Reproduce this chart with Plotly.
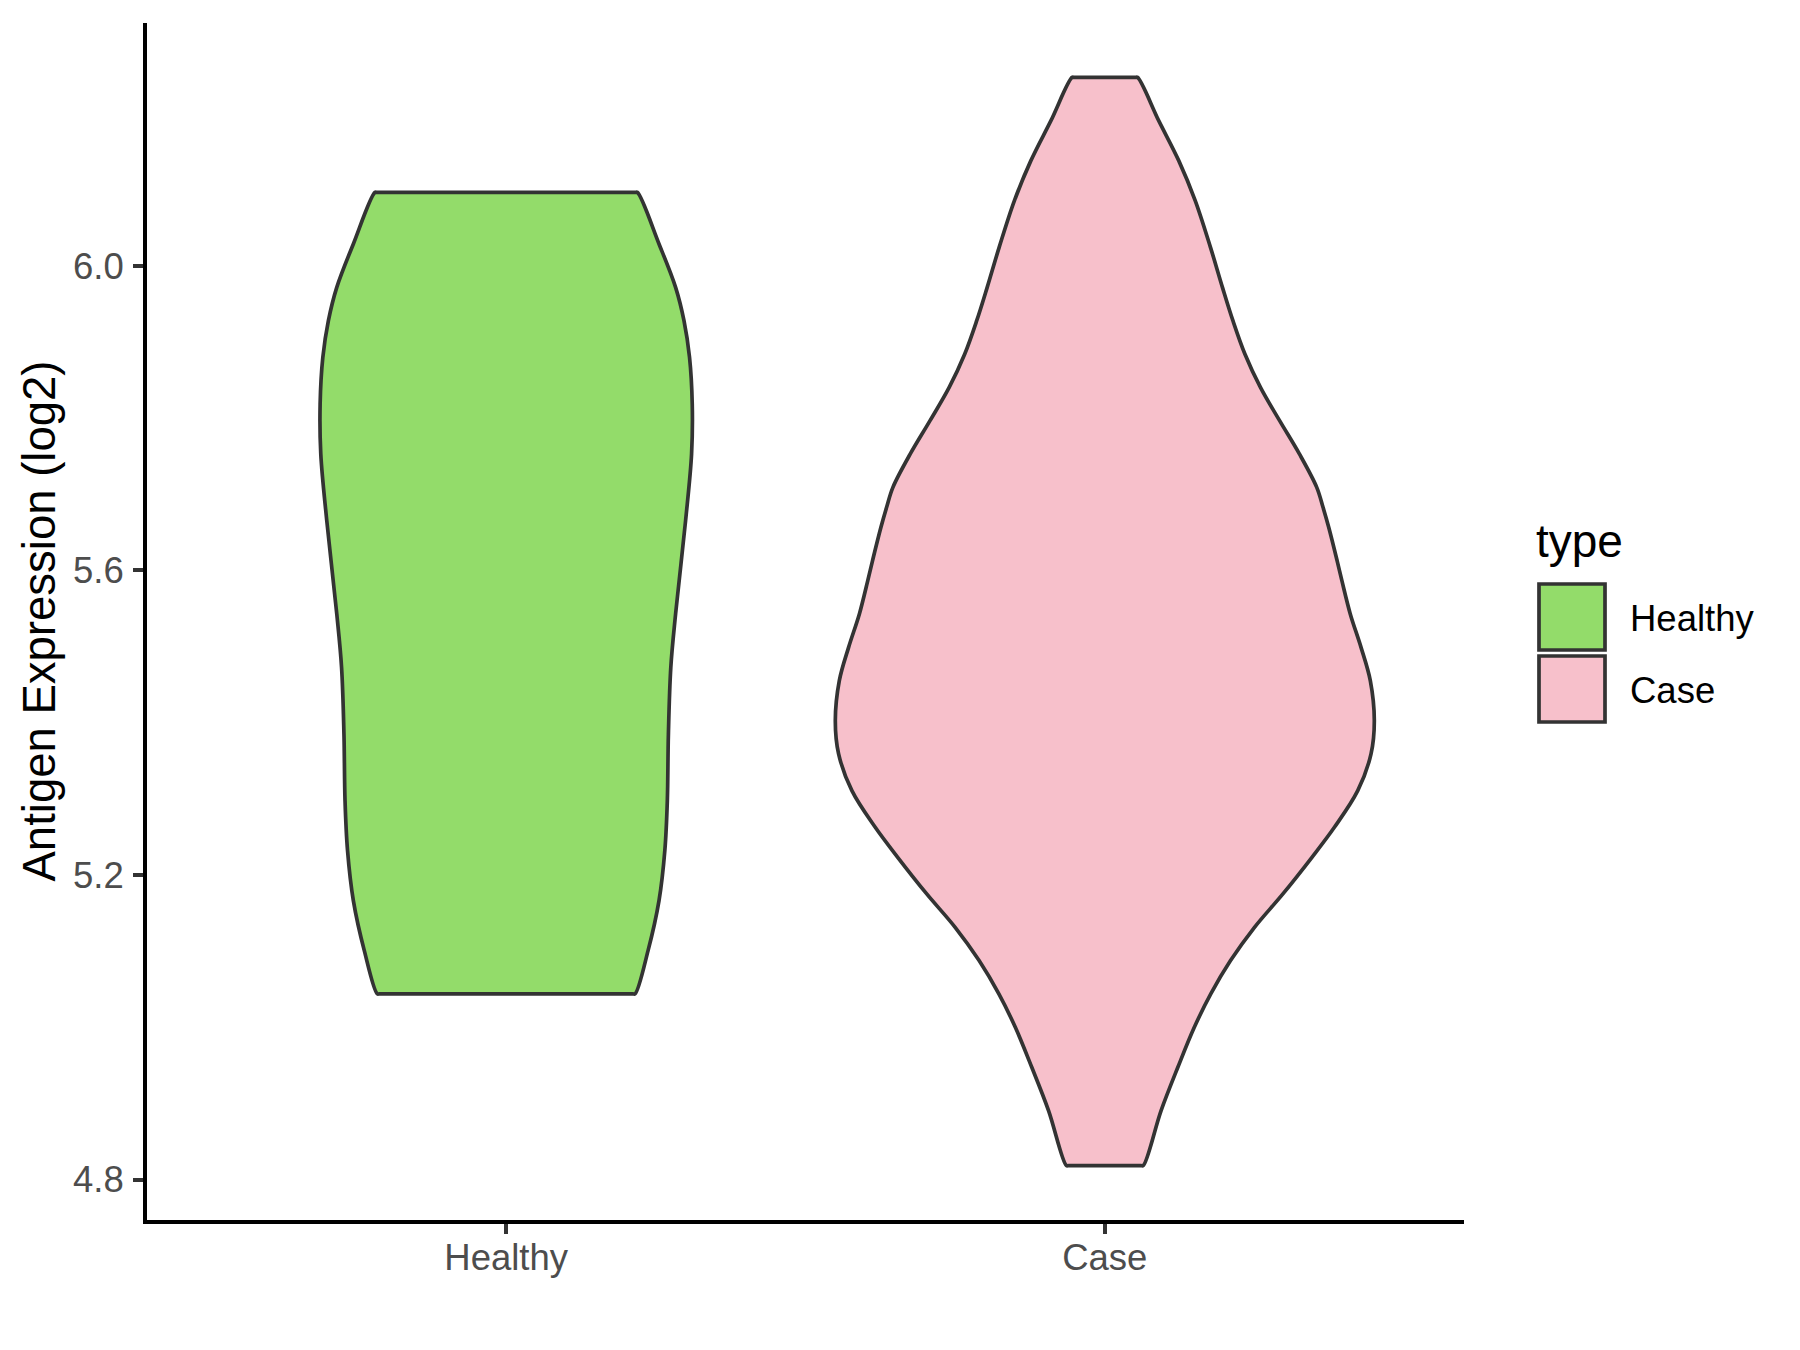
import plotly.graph_objects as go

# ---------------- data ----------------
categories = ["Healthy", "Case"]
fill_colors = ["#93DC6A", "#F7C0CB"]

# density outline: expression levels (log2) and violin half-widths (x-axis units)
healthy_levels = [5.0439, 5.1007, 5.1664, 5.2320, 5.2977, 5.3853, 5.4728, 5.5429,
                  5.6654, 5.7530, 5.8186, 5.8798, 5.9280, 5.9718, 6.0288, 6.0965]
healthy_halfwidth = [0.2153, 0.2370, 0.2553, 0.2650, 0.2692, 0.2710, 0.2750, 0.2830,
                     0.2997, 0.3097, 0.3108, 0.3063, 0.2970, 0.2830, 0.2553, 0.2192]

case_levels = [4.8184, 4.8906, 4.9475, 5.0000, 5.0439, 5.0876, 5.1313, 5.1752,
               5.2233, 5.2627, 5.3108, 5.3590, 5.4028, 5.4553, 5.4990, 5.5429,
               5.5866, 5.6129, 5.6566, 5.6829, 5.7091, 5.7530, 5.7967, 5.8404,
               5.8843, 5.9280, 5.9718, 6.0243, 6.0857, 6.1382, 6.1907, 6.2475]
case_halfwidth = [0.0642, 0.0940, 0.1220, 0.1495, 0.1770, 0.2100, 0.2500, 0.2975,
                  0.3460, 0.3835, 0.4225, 0.4447, 0.4502, 0.4435, 0.4280, 0.4100,
                  0.3960, 0.3880, 0.3740, 0.3645, 0.3540, 0.3250, 0.2920, 0.2600,
                  0.2340, 0.2140, 0.1965, 0.1765, 0.1510, 0.1235, 0.0900, 0.0547]

y_ticks = [4.8, 5.2, 5.6, 6.0]
y_title = "Antigen Expression (log2)"
legend_title = "type"

levels = [healthy_levels, case_levels]
halfwidths = [healthy_halfwidth, case_halfwidth]

# ---------------- figure ----------------
# page body has an 8px default margin -> keep the figure inside the window
W, H = 1792, 1342
L, T = 139, 15
PW, PH = 1317, 1197
R, B = W - L - PW, H - T - PH

OUTLINE = "#333333"
EPS = 0.004  # tiny step along the flat ends so the smoothed outline keeps sharp corners

fig = go.Figure()
for i, cat in enumerate(categories):
    c = i + 1
    ys = list(levels[i])
    hw = list(halfwidths[i])
    n = len(ys)
    xs, yy = [], []
    # right side, bottom -> top
    for k in range(n):
        xs.append(c + hw[k]); yy.append(ys[k])
    # flat top
    xs += [c + hw[-1] - EPS, c - hw[-1] + EPS]; yy += [ys[-1], ys[-1]]
    # left side, top -> bottom
    for k in range(n - 1, -1, -1):
        xs.append(c - hw[k]); yy.append(ys[k])
    # flat bottom back to start
    xs += [c - hw[0] + EPS, c + hw[0] - EPS, c + hw[0]]; yy += [ys[0], ys[0], ys[0]]
    fig.add_trace(go.Scatter(
        x=xs, y=yy, mode="lines", fill="toself",
        fillcolor=fill_colors[i],
        line=dict(color=OUTLINE, width=3.7, shape="spline", smoothing=1.0),
        name=cat, showlegend=False, hoverinfo="skip",
    ))

ymin = min(min(l) for l in levels)
ymax = max(max(l) for l in levels)
pad = (ymax - ymin) * 0.05

axis_common = dict(
    showgrid=False, zeroline=False,
    showline=True, linecolor="black", linewidth=3.9,
    ticks="outside", ticklen=10, tickwidth=3.6, tickcolor=OUTLINE,
    tickfont=dict(size=36.5, color="#4D4D4D"),
)

fig.update_layout(
    width=W, height=H,
    margin=dict(l=L, r=R, t=T, b=B, autoexpand=False),
    paper_bgcolor="white", plot_bgcolor="white",
    font=dict(family="Liberation Sans, Arial, sans-serif"),
    showlegend=False,
    xaxis=dict(
        range=[0.4, 2.6], tickmode="array", tickvals=[1, 2], ticktext=categories,
        ticklabelstandoff=-8, **axis_common,
    ),
    yaxis=dict(
        range=[ymin - pad, ymax + pad], tickmode="array", tickvals=y_ticks,
        ticktext=[f"{v:.1f}" for v in y_ticks], ticklabelstandoff=2,
        **axis_common,
    ),
)

# y-axis title
fig.add_annotation(
    text=y_title, xref="paper", yref="paper", x=0, y=0.5,
    xshift=-108, xanchor="center", yanchor="middle", textangle=-90,
    showarrow=False, font=dict(size=45.5, color="black"),
)

# legend (drawn as layout items); positions given in page pixels of the plot frame
def px_x(px):
    return (px - 147) / PW

def px_y(py):
    return (1220 - py) / PH

fig.add_annotation(
    text=legend_title, xref="paper", yref="paper",
    x=px_x(1534), y=px_y(541), xanchor="left", yanchor="middle",
    showarrow=False, font=dict(size=46, color="black"),
)
key_tops = [584, 656]
for i, cat in enumerate(categories):
    y0 = key_tops[i]
    fig.add_shape(
        type="rect", xref="paper", yref="paper",
        x0=px_x(1539), x1=px_x(1605), y0=px_y(y0 + 66), y1=px_y(y0),
        fillcolor=fill_colors[i], line=dict(color=OUTLINE, width=3.7),
    )
    fig.add_annotation(
        text=cat, xref="paper", yref="paper",
        x=px_x(1628), y=px_y(y0 + 34), xanchor="left", yanchor="middle",
        showarrow=False, font=dict(size=36.5, color="black"),
    )

fig.write_html("out.html")
